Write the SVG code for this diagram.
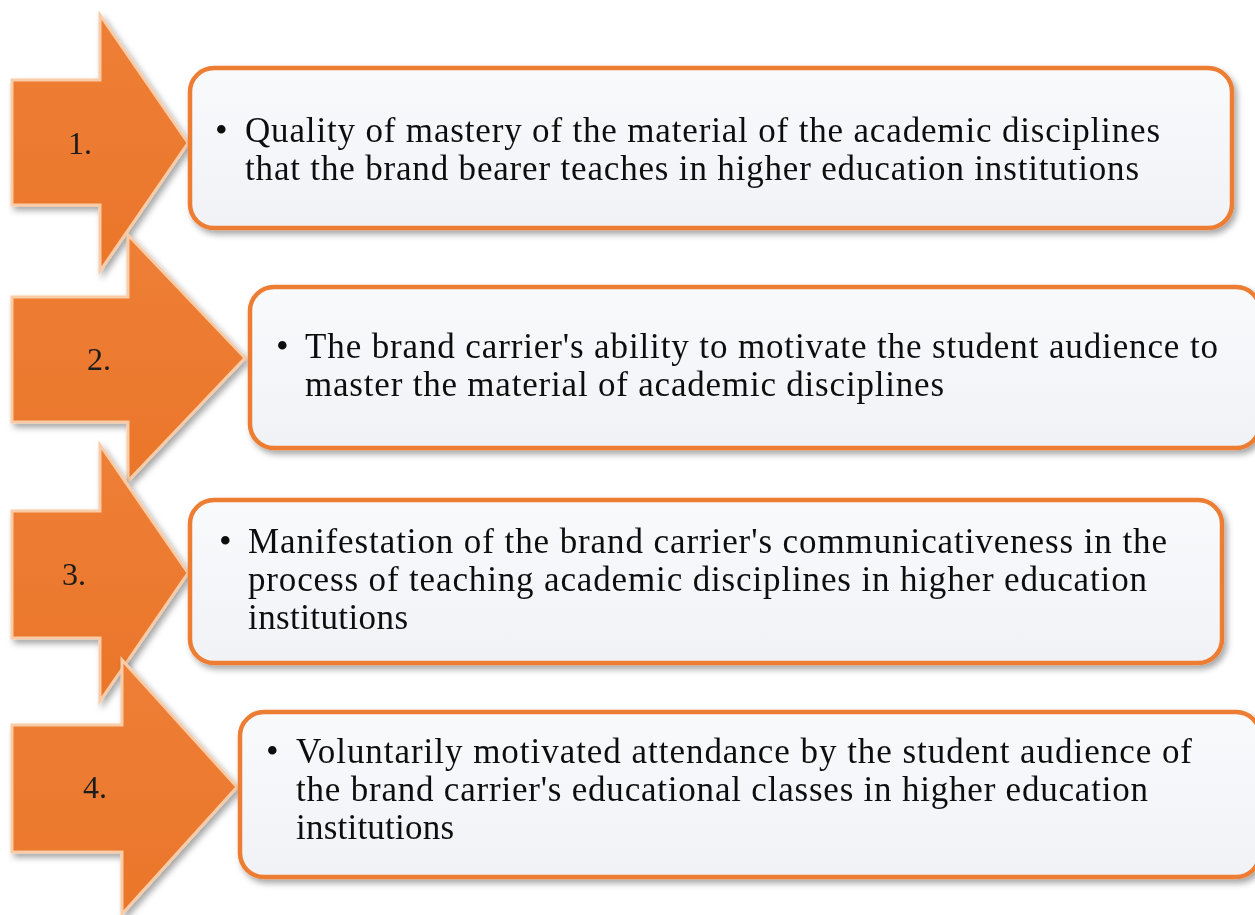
<svg xmlns="http://www.w3.org/2000/svg" width="1255" height="915" viewBox="0 0 1255 915">
  <defs>
    <linearGradient id="boxFill" x1="0" y1="0" x2="0" y2="1">
      <stop offset="0" stop-color="#F9FAFC"/>
      <stop offset="1" stop-color="#F1F2F6"/>
    </linearGradient>
    <linearGradient id="arrowFill" x1="0" y1="0" x2="0" y2="1">
      <stop offset="0" stop-color="#EE7F36"/>
      <stop offset="1" stop-color="#EA762A"/>
    </linearGradient>
    <filter id="shadow" x="-5%" y="-5%" width="112%" height="115%">
      <feDropShadow dx="3" dy="4" stdDeviation="3" flood-color="#000" flood-opacity="0.35"/>
    </filter>
  </defs>
  <style>
    .arrow { fill: url(#arrowFill); stroke: #F9CBA6; stroke-width: 3; stroke-linejoin: miter; }
    .box { fill: url(#boxFill); stroke: #ED7D31; stroke-width: 4.5; }
    .num { font-family: "Liberation Serif", "Times New Roman", serif; font-size: 32px; fill: #1a1a1a; text-anchor: middle; }
    .txt { font-family: "Liberation Serif", "Times New Roman", serif; font-size: 35px; fill: #111; }
    .bul { font-family: "Liberation Serif", "Times New Roman", serif; font-size: 36px; fill: #111; }
  </style>
  <rect width="1255" height="915" fill="#FFFFFF"/>

  <g id="connectors"></g>

  <g id="arrow1" filter="url(#shadow)">
    <path class="arrow" d="M12,80 H100 V15 L188,143 L100,271 V205 H12 Z"/>
    <text class="num" x="80" y="154">1.</text>
  </g>
  <g id="box1" filter="url(#shadow)">
    <rect class="box" x="190" y="68" width="1042" height="160" rx="24"/>
    <text class="bul" x="215" y="142">•</text>
    <text class="txt" x="245" y="142" textLength="915" lengthAdjust="spacing">Quality of mastery of the material of the academic disciplines</text>
    <text class="txt" x="245" y="180" textLength="894" lengthAdjust="spacing">that the brand bearer teaches in higher education institutions</text>
  </g>

  <g id="arrow2" filter="url(#shadow)">
    <path class="arrow" d="M12,297 H128 V235 L245,358 L128,481 V422 H12 Z"/>
    <text class="num" x="99" y="370">2.</text>
  </g>
  <g id="box2" filter="url(#shadow)">
    <rect class="box" x="250" y="287" width="1010" height="161" rx="24"/>
    <text class="bul" x="276" y="358">•</text>
    <text class="txt" x="305" y="358" textLength="913" lengthAdjust="spacing">The brand carrier's ability to motivate the student audience to</text>
    <text class="txt" x="305" y="396" textLength="639" lengthAdjust="spacing">master the material of academic disciplines</text>
  </g>

  <g id="arrow3" filter="url(#shadow)">
    <path class="arrow" d="M12,511 H100 V445 L188,573 L100,701 V638 H12 Z"/>
    <text class="num" x="74" y="585">3.</text>
  </g>
  <g id="box3" filter="url(#shadow)">
    <rect class="box" x="190" y="500" width="1032" height="163" rx="24"/>
    <text class="bul" x="219" y="553">•</text>
    <text class="txt" x="248" y="553" textLength="919" lengthAdjust="spacing">Manifestation of the brand carrier's communicativeness in the</text>
    <text class="txt" x="248" y="591" textLength="899" lengthAdjust="spacing">process of teaching academic disciplines in higher education</text>
    <text class="txt" x="248" y="629" textLength="160" lengthAdjust="spacing">institutions</text>
  </g>

  <g id="arrow4" filter="url(#shadow)">
    <path class="arrow" d="M12,725 H122 V660 L237,787 L122,914 V852 H12 Z"/>
    <text class="num" x="95" y="798">4.</text>
  </g>
  <g id="box4" filter="url(#shadow)">
    <rect class="box" x="240" y="712" width="1020" height="165" rx="24"/>
    <text class="bul" x="266" y="763">•</text>
    <text class="txt" x="296" y="763" textLength="896" lengthAdjust="spacing">Voluntarily motivated attendance by the student audience of</text>
    <text class="txt" x="296" y="801" textLength="852" lengthAdjust="spacing">the brand carrier's educational classes in higher education</text>
    <text class="txt" x="296" y="839" textLength="158" lengthAdjust="spacing">institutions</text>
  </g>
</svg>
